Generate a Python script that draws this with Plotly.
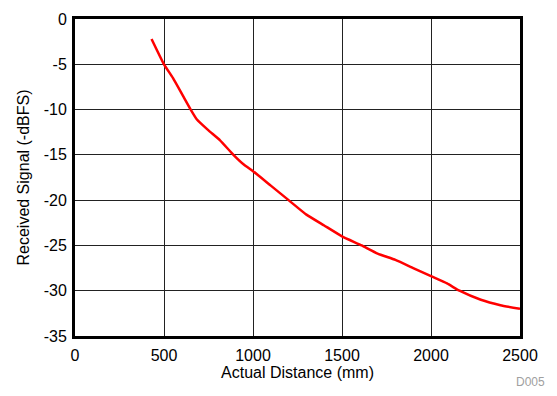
import plotly.graph_objects as go

distance_mm = [430, 500, 550, 610, 650, 685, 750, 815, 890, 950, 1000, 1100, 1200,
               1300, 1400, 1500, 1610, 1700, 1800, 1900, 2000, 2090, 2160, 2280,
               2390, 2500]
signal_dbfs = [-2.2, -5.0, -6.5, -8.6, -10.0, -11.1, -12.3, -13.4, -15.0, -16.1, -16.8,
               -18.4, -20.0, -21.6, -22.8, -24.0, -25.0, -25.9, -26.6, -27.5, -28.4,
               -29.2, -30.0, -31.0, -31.6, -32.0]
x_ticks = [0, 500, 1000, 1500, 2000, 2500]
y_ticks = [0, -5, -10, -15, -20, -25, -30, -35]
y_tick_labels = ["0", "-5", "-10", "-15", "-20", "-25", "-30", "-35"]

fig = go.Figure()
fig.add_trace(go.Scatter(x=distance_mm, y=signal_dbfs, mode="lines",
                         line=dict(color="#ff0000", width=2.5, shape="spline", smoothing=0.4),
                         showlegend=False))

font = dict(family="Liberation Sans, Arial, sans-serif", color="black")
fig.update_layout(
    width=549, height=388,
    margin=dict(l=67, r=37, t=11, b=60),
    paper_bgcolor="white", plot_bgcolor="white",
    font=dict(**font, size=16),
    xaxis=dict(range=[0, 2500], tickvals=x_ticks, ticks="", showgrid=True, automargin=False,
               gridcolor="#222222", gridwidth=1.3, showline=True, linecolor="black",
               linewidth=3, mirror=True, zeroline=False, ticklabelstandoff=3,
               tickfont=dict(size=16), title=dict(text="Actual Distance (mm)", font=dict(size=16), standoff=3)),
    yaxis=dict(range=[-35, 0], tickvals=y_ticks, ticktext=y_tick_labels, ticks="", showgrid=True,
               automargin=False, ticklabelstandoff=2,
               gridcolor="#222222", gridwidth=1.3, showline=True, linecolor="black",
               linewidth=3, mirror=True, zeroline=False,
               tickfont=dict(size=16), title=dict(text="Received Signal (-dBFS)", font=dict(size=16), standoff=11)),
)
fig.add_annotation(text="D005", xref="paper", yref="paper", x=1.06, y=-0.145,
                   xanchor="right", yanchor="middle", showarrow=False,
                   font=dict(size=12, color="#a0a0a0"))
fig.write_html("out.html")
